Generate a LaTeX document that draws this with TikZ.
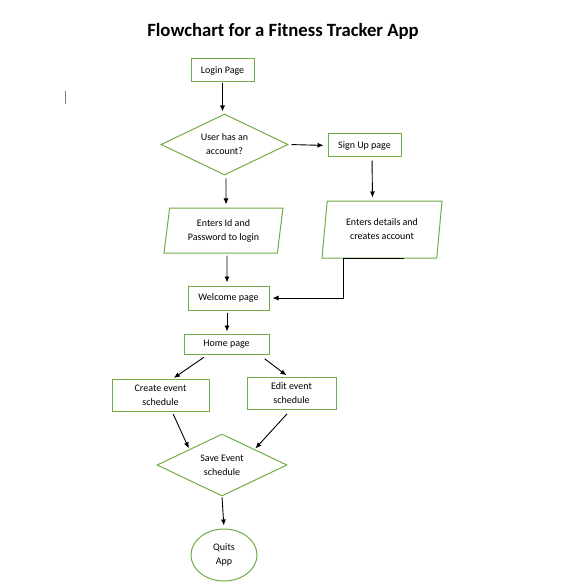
\documentclass[tikz,border=0pt]{standalone}
\usepackage{fontspec}
\setmainfont{Carlito}
\usetikzlibrary{arrows,arrows.meta,shapes,calc}
\definecolor{boxgreen}{RGB}{112,173,71}
\tikzset{
         box/.style={draw=boxgreen,line width=1,inner sep=0,align=center,font=\fontsize{10}{14}\selectfont},
         decision/.style={box,diamond,aspect=2},
         io/.style={box,trapezium,trapezium left angle=76,trapezium right angle=104,trapezium stretches body},
         arr/.style={-{Latex[length=6,width=5]},line width=0.9}
        }

\begin{document}
\begin{tikzpicture}[x=1pt,y=-1pt]
\useasboundingbox(0,0)rectangle(562,585);

%title
\node[font=\fontsize{18.7}{20}\selectfont\bfseries](title)at(283,31){Flowchart for a Fitness Tracker App};

%cursor mark
\draw[gray,line width=0.8](65,91)--(65,104);

%boxes
\node[box,minimum width=63,minimum height=23](login)at(222.5,70.5){Login Page};
\node[decision,minimum width=127,minimum height=61](user)at(224.5,144.5){User has an\\account?};
\node[box,minimum width=73,minimum height=23](signup)at(364.5,145.5){Sign Up page};
\node[io,minimum width=119,minimum height=45](enterid)at(223.5,230.5){Enters Id and\\Password to login};
\node[io,minimum width=120,minimum height=57](details)at(382,229.5){Enters details and\\creates account};
\node[box,minimum width=81,minimum height=24](welcome)at(228.5,298){Welcome page};
\node[box,minimum width=85,minimum height=20](home)at(226.5,344){Home page};
\node[box,minimum width=97,minimum height=32](create)at(160.5,395){Create event\\schedule};
\node[box,minimum width=89,minimum height=32](edit)at(291.5,393){Edit event\\schedule};
\node[decision,minimum width=130,minimum height=62](save)at(222,465){Save Event\\schedule};
\node[box,ellipse,minimum width=66,minimum height=52](quit)at(224,555){Quits\\App};

%connectors
\draw[arr,shorten <=1,shorten >=2](login.south)--([xshift=-2]user.north);
\draw[arr,shorten <=3,shorten >=4](user.east)--(signup.west);
\draw[arr,shorten <=3,shorten >=3]([xshift=7.5]signup.south)--([xshift=-9.5]details.north);
\draw[arr,shorten <=3,shorten >=3]([xshift=1.5]user.south)--([xshift=2.5]enterid.north);
\draw[arr,shorten <=2,shorten >=3]([xshift=3.5]enterid.south)--([xshift=-1.5]welcome.north);
\coordinate(detailsend)at([xshift=22]details.south);
\draw[arr,shorten >=3](detailsend)-|([xshift=-39]details.south)|-(welcome.east);
\draw[arr,shorten <=2,shorten >=2]([xshift=-1.5]welcome.south)--([xshift=0.5]home.north);
\draw[arr,shorten <=5,shorten >=1]([xshift=-18.5]home.south)--([xshift=12.5]create.north);
\draw[arr,shorten <=7,shorten >=2]([xshift=32.5]home.south)--([xshift=-3.5]edit.north);
\draw[arr,shorten <=3,shorten >=1]([xshift=11.5]create.south)--(save.north west);
\draw[arr,shorten <=6,shorten >=1]([xshift=-0.5]edit.south)--(save.north east);
\draw[arr,shorten <=1,shorten >=3](save.south)--(quit.north);

\end{tikzpicture}
\end{document}
